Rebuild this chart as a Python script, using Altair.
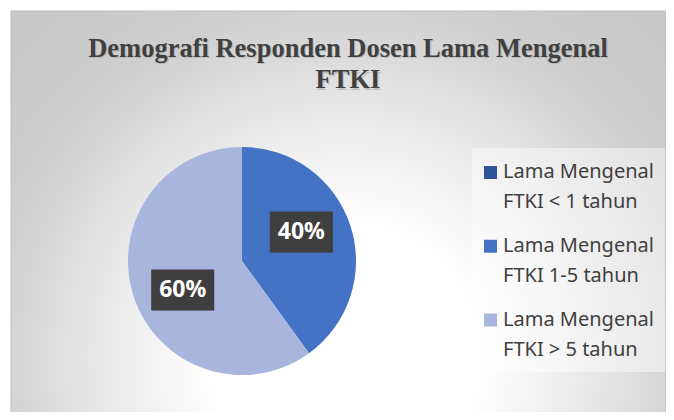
import altair as alt
import pandas as pd

# ---- data ----
categories = [
    "Lama Mengenal FTKI < 1 tahun",
    "Lama Mengenal FTKI 1-5 tahun",
    "Lama Mengenal FTKI > 5 tahun",
]
legend_labels = [
    "Lama Mengenal\nFTKI < 1 tahun",
    "Lama Mengenal\nFTKI 1-5 tahun",
    "Lama Mengenal\nFTKI > 5 tahun",
]
values = [0, 40, 60]
colors = ["#2F5597", "#4472C4", "#A8B5DC"]
title_text = ["Demografi Responden Dosen Lama Mengenal\nFTKI"]

# ---- layout constants ----
W, H = 655, 401
CX, CY, R = 231, 250, 114
LABEL_R = 66
LABEL_ROT = -0.14

df = pd.DataFrame({
    "cat": categories,
    "label": legend_labels,
    "value": values,
    "idx": list(range(len(categories))),
})
color_scale = alt.Scale(domain=categories, range=colors)
one = alt.Data(values=[{}])

bg = alt.Chart(one).mark_rect(
    fill=alt.Gradient(
        gradient="radial",
        stops=[
            alt.GradientStop(color="#FFFFFF", offset=0),
            alt.GradientStop(color="#FFFFFF", offset=0.3),
            alt.GradientStop(color="#F2F2F2", offset=0.45),
            alt.GradientStop(color="#DEDEDE", offset=0.65),
            alt.GradientStop(color="#CFCFCF", offset=0.8),
            alt.GradientStop(color="#C8C8C8", offset=1),
        ],
        x1=0.51, y1=0.72, r1=0, x2=0.51, y2=0.72, r2=0.68,
    ),
    stroke="#BDBDBD", strokeWidth=1,
).encode(x=alt.value(0), x2=alt.value(W), y=alt.value(0), y2=alt.value(H + 5))

legend_bg = alt.Chart(one).mark_rect(fill="white", opacity=0.45).encode(
    x=alt.value(461), x2=alt.value(W - 1), y=alt.value(137), y2=alt.value(361)
)

base = alt.Chart(df)

pie = base.mark_arc(radius=R).encode(
    theta=alt.Theta("value:Q", stack=True),
    color=alt.Color("cat:N", scale=color_scale, legend=None),
    order=alt.Order("idx:Q"),
    x=alt.value(CX),
    y=alt.value(CY),
)

lab = (
    base.transform_joinaggregate(total="sum(value)")
    .transform_window(cum="sum(value)", sort=[alt.SortField("idx")], frame=[None, 0])
    .transform_calculate(mid=f"(datum.cum - datum.value/2)/datum.total*2*PI + ({LABEL_ROT})")
    .transform_calculate(
        px=f"{CX} + {LABEL_R}*sin(datum.mid)",
        py=f"{CY} - {LABEL_R}*cos(datum.mid)",
        pct="format(datum.value/datum.total, '.0%')",
    )
    .transform_filter("datum.value > 0")
    .transform_calculate(
        bx1="datum.px - 31.5", bx2="datum.px + 31.5",
        by1="datum.py - 20.5", by2="datum.py + 20.5",
    )
)

box_enc = dict(
    x=alt.X("bx1:Q", scale=None, axis=None),
    x2="bx2:Q",
    y=alt.Y("by1:Q", scale=None, axis=None),
    y2="by2:Q",
)
shadow = lab.mark_rect(color="black", opacity=0.25, xOffset=3, yOffset=3).encode(**box_enc)
box = lab.mark_rect(color="#3F3F3F").encode(**box_enc)
lab_text = lab.mark_text(
    font="Noto Sans", fontWeight="bold", fontSize=23, color="white",
    align="center", baseline="middle",
).encode(
    x=alt.X("px:Q", scale=None, axis=None),
    y=alt.Y("py:Q", scale=None, axis=None),
    text="pct:N",
)

leg = base.transform_calculate(ly="161.5 + datum.idx*73.75")
leg_sq = leg.mark_square(size=169, filled=True, opacity=1).encode(
    x=alt.value(479.5),
    y=alt.Y("ly:Q", scale=None, axis=None),
    color=alt.Color("cat:N", scale=color_scale, legend=None),
)
leg_text = leg.mark_text(
    lineBreak="\n", align="left", baseline="alphabetic", font="Noto Sans",
    fontSize=20, lineHeight=30, color="#404040", dy=5.5,
).encode(
    x=alt.value(492),
    y=alt.Y("ly:Q", scale=None, axis=None),
    text="label:N",
)

tdf = pd.DataFrame({"t": title_text})
title_shadow = alt.Chart(tdf).mark_text(
    lineBreak="\n", align="center", baseline="alphabetic", font="Liberation Serif",
    fontWeight="bold", fontSize=26.5, lineHeight=31.6, color="#9A9A9A", opacity=0.45,
    dx=1.2, dy=1.5,
).encode(x=alt.value(337), y=alt.value(45.7), text="t:N")
title = alt.Chart(tdf).mark_text(
    lineBreak="\n", align="center", baseline="alphabetic", font="Liberation Serif",
    fontWeight="bold", fontSize=26.5, lineHeight=31.6, color="#404040",
).encode(x=alt.value(337), y=alt.value(45.7), text="t:N")

chart = alt.layer(
    bg, legend_bg, pie, shadow, box, lab_text, leg_sq, leg_text, title_shadow, title
).properties(
    width=W, height=H,
    padding={"left": 3, "top": 3, "right": 0, "bottom": 0},
    autosize=alt.AutoSizeParams(type="none"),
).configure_view(strokeWidth=0)

chart.save("out.html", embed_options={"renderer": "svg", "actions": False})
